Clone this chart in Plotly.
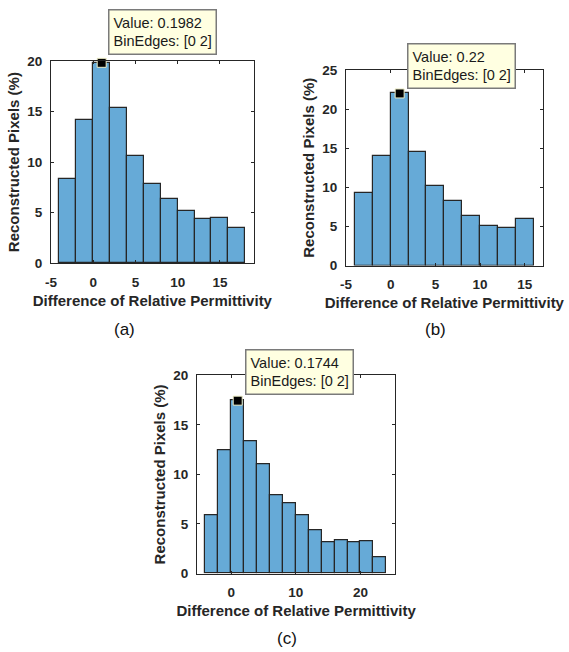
import plotly.graph_objects as go

# ---------------- data ----------------
bin_left_a = [-4, -2, 0, 2, 4, 6, 8, 10, 12, 14, 16]
pct_a = [8.3, 14.15, 19.82, 15.35, 10.65, 7.8, 6.38, 5.22, 4.35, 4.45, 3.5]

bin_left_b = [-4, -2, 0, 2, 4, 6, 8, 10, 12, 14]
pct_b = [9.25, 14.0, 22.0, 14.5, 10.2, 8.3, 6.3, 5.0, 4.75, 5.9]

bin_left_c = [-4, -2, 0, 2, 4, 6, 8, 10, 12, 14, 16, 18, 20, 22]
pct_c = [5.85, 12.4, 17.44, 13.38, 11.04, 7.88, 7.05, 5.85, 4.35, 3.1, 3.4, 3.1, 3.2, 1.6]

bin_width = 2
tip_bin = 0            # left edge of the highlighted bin [0 2]
tip_values = ["0.1982", "0.22", "0.1744"]
tip_pct = [19.82, 22.0, 17.44]

xticks_a = [-5, 0, 5, 10, 15]
xticks_b = [-5, 0, 5, 10, 15]
xticks_c = [0, 10, 20]
xlabels_a = ["-5", "0", "5", "10", "15"]
xlabels_b = ["-5", "0", "5", "10", "15"]
xlabels_c = ["0", "10", "20"]
yticks_a = [0, 5, 10, 15, 20]
yticks_b = [0, 5, 10, 15, 20, 25]
yticks_c = [0, 5, 10, 15, 20]

panel_labels = ["(a)", "(b)", "(c)"]
xtitle = "Difference of Relative Permittivity"
ytitle = "Reconstructed Pixels (%)"

# ---------------- layout ----------------
W, H = 569, 652
FONT = "Arial, Liberation Sans, sans-serif"
BAR = "#66AAD7"
EDGE = "#262626"

def px_x(v):
    return v / W

def px_y(v):
    return 1 - v / H

# plot boxes in pixels: (left, right, top, bottom)
boxes = [(51, 253.7, 61, 263.3), (346, 542.7, 70, 265.5), (197, 395.3, 375.3, 573.5)]
xranges = [[-5, 19], [-5, 17], [-5.3, 25.4]]
yranges = [[0, 20], [0, 25], [0, 20]]
xticks = [xticks_a, xticks_b, xticks_c]
xlabels = [xlabels_a, xlabels_b, xlabels_c]
yticks = [yticks_a, yticks_b, yticks_c]
lefts = [bin_left_a, bin_left_b, bin_left_c]
pcts = [pct_a, pct_b, pct_c]
tip_boxes = [(108, 9), (406.7, 42.7), (245, 349)]
label_pos = [(124.5, 329), (435.3, 329), (286.5, 638)]

fig = go.Figure()
layout = dict(
    width=W, height=H,
    margin=dict(l=0, r=0, t=0, b=0, autoexpand=False),
    paper_bgcolor="white", plot_bgcolor="white",
    showlegend=False, bargap=0,
    font=dict(family=FONT, color="#262626"),
)
annotations = []

for i in range(3):
    sfx = "" if i == 0 else str(i + 1)
    xa, ya = "x" + sfx, "y" + sfx
    l, r, t, b = boxes[i]
    centers = [e + bin_width / 2 for e in lefts[i]]
    fig.add_trace(go.Bar(
        x=centers, y=pcts[i], width=bin_width,
        marker=dict(color=BAR, line=dict(color=EDGE, width=1.2)),
        xaxis=xa, yaxis=ya, hoverinfo="skip",
    ))
    fig.add_trace(go.Scatter(
        x=[tip_bin + bin_width / 2], y=[tip_pct[i]], mode="markers",
        marker=dict(symbol="square", size=9, color="black",
                    line=dict(color="#F0F0C8", width=1)),
        xaxis=xa, yaxis=ya, cliponaxis=False, hoverinfo="skip",
    ))
    axis_common = dict(
        showline=True, mirror="ticks", linecolor=EDGE, linewidth=1,
        ticks="inside", ticklen=3, tickcolor=EDGE, tickwidth=1,
        showgrid=False, zeroline=False, automargin=False,
        tickfont=dict(family=FONT, size=13.5, color="#262626", weight="bold"),
    )
    layout["xaxis" + sfx] = dict(
        axis_common, domain=[px_x(l), px_x(r)], range=xranges[i],
        tickvals=xticks[i], ticktext=xlabels[i], anchor=ya,
        ticklabelstandoff=6,
        title=dict(text=xtitle, standoff=6,
                   font=dict(family=FONT, size=15, color="#262626", weight="bold")),
    )
    layout["yaxis" + sfx] = dict(
        axis_common, domain=[px_y(b), px_y(t)], range=yranges[i],
        tickvals=yticks[i], anchor=xa,
        ticklabelstandoff=5,
        title=dict(text=ytitle, standoff=4,
                   font=dict(family=FONT, size=15, color="#262626", weight="bold")),
    )
    tx, ty = tip_boxes[i]
    annotations.append(dict(
        xref="paper", yref="paper", x=px_x(tx), y=px_y(ty),
        xanchor="left", yanchor="top", align="left", showarrow=False,
        text="Value: " + tip_values[i] + "<br>BinEdges: [0 2]",
        font=dict(family=FONT, size=14.5, color="#1a1a1a"),
        bgcolor="#FFFFE1", bordercolor="#7a7a7a", borderwidth=1.5, borderpad=4,
    ))
    lx, ly = label_pos[i]
    annotations.append(dict(
        xref="paper", yref="paper", x=px_x(lx), y=px_y(ly),
        xanchor="center", yanchor="middle", showarrow=False,
        text=panel_labels[i], font=dict(family=FONT, size=17, color="#111111"),
    ))

layout["annotations"] = annotations
fig.update_layout(**layout)
fig.write_html("out.html",
               config={"displayModeBar": False},
               post_script="document.body.style.margin='0';document.body.style.overflow='hidden';")
